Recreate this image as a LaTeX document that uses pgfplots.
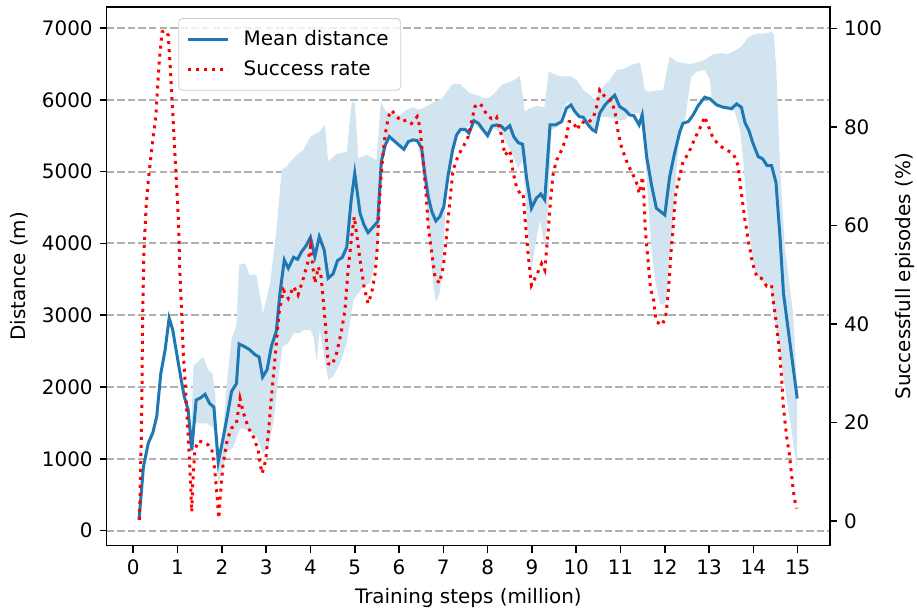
\documentclass[border=0pt]{standalone}
\usepackage{fontspec}
\setmainfont{DejaVu Sans}
\usepackage{pgfplots}
\pgfplotsset{compat=1.18}
\usetikzlibrary{calc}

\definecolor{tabblue}{HTML}{1F77B4}
\definecolor{bandblue}{RGB}{210,228,240}
\definecolor{gridgray}{HTML}{B0B0B0}

\pgfplotsset{
  every axis/.append style={
    /pgf/number format/assume math mode=true,
    /pgf/number format/1000 sep={},
    tick align=outside,
    major tick length=3.5bp,
    tick style={black, line width=0.8bp},
    axis line style={line width=0.8bp},
    tick label style={font=\fontsize{10}{12}\selectfont},
    label style={font=\fontsize{10}{12}\selectfont},
  },
  legline/.style={legend image code/.code={\draw[##1] (0bp,0bp) -- (20bp,0bp);}},
}

\begin{document}
\begin{tikzpicture}
% left axis: distance
\begin{axis}[
  width=361.7bp, height=269.5bp, scale only axis,
  xmin=-0.6, xmax=15.73,
  ymin=-209, ymax=7298,
  xtick={0,1,...,15},
  ytick={0,1000,...,7000},
  tick pos=left,
  ymajorgrids=true,
  grid style={gridgray, line width=1bp, dash pattern=on 3.7bp off 1.6bp},
  xlabel={Training steps (million)},
  ylabel={Distance (m)},
]
\coordinate (sw) at (rel axis cs:0,0);
\coordinate (ne) at (rel axis cs:1,1);

% spread of the distance
\addplot[fill=bandblue, draw=none, forget plot] coordinates {
(1.15,1870) (1.24,1700) (1.30,1300) (1.36,2300) (1.42,2330) (1.58,2424) (1.69,2238) (1.79,2192)
(1.85,1900) (1.92,1000) (2.02,1300) (2.11,2053) (2.22,2680) (2.33,2865) (2.39,3700) (2.52,3725)
(2.63,3562) (2.78,3562) (2.93,3028) (3.09,3446) (3.24,4235) (3.35,5024) (3.46,5071) (3.58,5164)
(3.69,5234) (3.84,5303) (4.00,5489) (4.21,5558) (4.33,5651) (4.40,5140) (4.59,5247) (4.82,5280)
(4.93,5954) (5.00,5977) (5.08,5187) (5.27,5234) (5.49,5164) (5.59,5977) (5.68,5861) (5.79,5814)
(6.02,5791) (6.17,5861) (6.32,5898) (6.43,5861) (6.55,5884) (6.74,5954) (6.97,6023) (7.11,6139)
(7.22,6223) (7.38,6223) (7.51,6139) (7.60,6093) (7.75,6070) (7.90,6023) (8.01,6023) (8.16,6093)
(8.32,6209) (8.58,6269) (8.73,6334) (8.84,5837) (8.95,5884) (9.11,5916) (9.28,5898) (9.38,6394)
(9.59,6334) (9.75,6325) (9.86,6334) (10.01,6278) (10.16,6139) (10.31,6070) (10.42,6000) (10.61,6185)
(10.76,6278) (10.91,6418) (11.06,6427) (11.25,6487) (11.44,6520) (11.55,6139) (11.63,6116) (11.81,6130)
(11.96,6139) (12.11,6604) (12.27,6534) (12.45,6511) (12.57,6497) (12.72,6520) (12.90,6557) (13.09,6636)
(13.28,6650) (13.40,6636) (13.55,6673) (13.73,6743) (13.88,6870) (14.03,6919) (14.30,6929) (14.41,6951)
(14.46,6905) (14.52,6400) (14.60,5100) (14.71,3950) (14.82,3400) (14.90,3000) (14.95,2400) (14.99,1900)
(14.99,846) (14.93,1078) (14.86,1403) (14.79,1681) (14.71,2006) (14.60,2471) (14.49,2935) (14.38,3399)
(14.30,3446) (14.15,3492) (14.05,3585) (13.99,3771) (13.92,4096) (13.85,4514) (13.77,5164) (13.70,5582)
(13.58,5837) (13.51,5850) (13.30,5880) (13.10,5950) (13.06,6000) (13.02,6278) (12.90,6418) (12.73,6394)
(12.60,6325) (12.53,6046) (12.45,5675) (12.34,5536) (12.26,5024) (12.19,4328) (12.11,3771) (12.03,3200)
(11.96,3144) (11.89,3168) (11.78,3492) (11.70,3910) (11.63,4561) (11.55,5257) (11.50,5700) (11.42,5814)
(11.21,5814) (11.10,5721) (10.95,5720) (10.80,5750) (10.65,5767) (10.53,5750) (10.44,5558) (10.37,5582)
(10.27,5651) (10.16,5758) (10.07,5767) (9.97,5837) (9.88,5930) (9.82,5977) (9.70,5861) (9.59,5628)
(9.44,5582) (9.37,4514) (9.29,3956) (9.18,4328) (9.07,3956) (8.99,3632) (8.88,4374) (8.80,5164)
(8.69,5048) (8.54,5257) (8.39,5442) (8.28,5558) (8.13,5605) (7.98,5512) (7.83,5582) (7.67,5697)
(7.56,5628) (7.41,5582) (7.26,5489) (7.15,5164) (7.07,4792) (7.00,3864) (6.92,3307) (6.83,3190)
(6.77,3446) (6.70,3956) (6.62,4607) (6.51,5118) (6.41,5433) (6.32,5443) (6.21,5419) (6.11,5312)
(5.95,5396) (5.78,5489) (5.69,5373) (5.60,5140) (5.55,4049) (5.45,3700) (5.35,3450) (5.19,3400)
(4.97,3214) (4.82,2610) (4.67,2332) (4.51,2145) (4.40,2099) (4.21,2796) (4.14,2354) (4.07,2700)
(4.00,2796) (3.84,2796) (3.76,2750) (3.62,2750) (3.50,2610) (3.37,2563) (3.27,2099) (3.16,1496)
(3.05,1170) (2.93,1078) (2.78,1310) (2.60,1403) (2.41,1426) (2.26,1170) (2.11,1078) (2.03,892)
(1.92,660) (1.81,1430) (1.66,1496) (1.42,1496) (1.35,1472) (1.32,1050) (1.24,1500) (1.15,1860)
};

% mean distance
\addplot[tabblue, line width=1.5bp, forget plot] coordinates {
(0.13,150) (0.23,890) (0.34,1220) (0.44,1360) (0.53,1590) (0.62,2180) (0.72,2520) (0.81,2960)
(0.89,2800) (0.98,2470) (1.07,2145) (1.15,1870) (1.24,1680) (1.32,1120) (1.42,1820) (1.52,1850)
(1.62,1900) (1.72,1775) (1.82,1720) (1.92,960) (2.02,1260) (2.12,1590) (2.22,1940) (2.33,2050)
(2.39,2600) (2.52,2560) (2.63,2520) (2.75,2450) (2.84,2420) (2.92,2140) (3.02,2240) (3.12,2570)
(3.23,2780) (3.31,3300) (3.41,3770) (3.50,3655) (3.62,3808) (3.71,3780) (3.80,3886) (3.90,3966)
(4.00,4087) (4.10,3817) (4.20,4096) (4.31,3910) (4.40,3516) (4.51,3576) (4.61,3761) (4.72,3808)
(4.82,3948) (4.92,4607) (5.00,4979) (5.12,4421) (5.21,4258) (5.30,4151) (5.42,4235) (5.52,4305)
(5.60,5140) (5.69,5373) (5.78,5489) (5.95,5396) (6.11,5312) (6.21,5419) (6.32,5443) (6.41,5433)
(6.51,5327) (6.58,4979) (6.66,4653) (6.74,4444) (6.83,4314) (6.92,4374) (7.01,4514) (7.11,4955)
(7.21,5303) (7.30,5512) (7.39,5591) (7.49,5591) (7.58,5536) (7.69,5711) (7.79,5675) (7.90,5582)
(8.00,5502) (8.10,5637) (8.20,5651) (8.30,5637) (8.39,5582) (8.50,5641) (8.59,5489) (8.69,5405)
(8.79,5382) (8.88,4909) (8.99,4491) (9.10,4630) (9.20,4690) (9.29,4607) (9.41,5651) (9.53,5651)
(9.67,5697) (9.78,5884) (9.88,5930) (9.97,5837) (10.07,5767) (10.16,5758) (10.27,5651) (10.37,5582)
(10.44,5558) (10.53,5814) (10.65,5930) (10.76,6000) (10.87,6065) (10.98,5907) (11.10,5860) (11.21,5790)
(11.30,5781) (11.42,5651) (11.49,5790) (11.59,5210) (11.70,4816) (11.81,4491) (12.00,4398) (12.11,4931)
(12.22,5257) (12.34,5558) (12.41,5675) (12.53,5697) (12.64,5790) (12.75,5916) (12.90,6037) (13.02,6014)
(13.17,5930) (13.32,5898) (13.51,5879) (13.62,5944) (13.73,5898) (13.81,5684) (13.90,5572) (13.99,5396)
(14.11,5210) (14.21,5178) (14.31,5084) (14.41,5084) (14.51,4850) (14.60,4100) (14.68,3300) (14.99,1840)
};
\end{axis}

% right axis: success rate
\begin{axis}[
  width=361.7bp, height=269.5bp, scale only axis,
  xmin=-0.6, xmax=15.73,
  ymin=-4.95, ymax=104.4,
  axis x line=none,
  axis y line*=right,
  ytick={0,20,...,100},
  ylabel={Successfull episodes (\%)},
  legline,
  legend style={at={(0.099,0.979)}, anchor=north west, draw=black!20,
    rounded corners=2bp, fill=white, fill opacity=0.8, text opacity=1,
    font=\fontsize{10}{12}\selectfont, inner xsep=4bp, inner ysep=4bp,
    row sep=2bp, column sep=5bp},
  legend cell align=left,
]
\addlegendimage{tabblue, line width=1.5bp}
\addlegendentry{Mean distance}
\addplot[red, line width=1.5bp, dash pattern=on 1.5bp off 2.5bp] coordinates {
(0.14,0.3) (0.19,20.5) (0.21,40.8) (0.24,54.4) (0.29,63.8) (0.34,69.2) (0.39,73.3) (0.45,78)
(0.51,82.1) (0.54,86.8) (0.59,93.6) (0.65,99.3) (0.72,99.6) (0.79,98.6) (0.84,91.5) (0.90,81.4)
(0.96,71.3) (1.02,61.1) (1.05,51) (1.09,42.9) (1.13,34.1) (1.19,25.3) (1.24,17.2) (1.28,10.4)
(1.32,1.9) (1.34,7) (1.39,14.5) (1.47,16.3) (1.64,15.9) (1.77,14.8) (1.84,10.4) (1.90,4.3)
(1.93,0.6) (1.97,5.7) (2.03,11.8) (2.12,16.5) (2.22,18.9) (2.33,19.9) (2.41,24.9) (2.48,22.2)
(2.60,18.9) (2.71,17.2) (2.82,14.5) (2.86,11.8) (2.91,9.7) (2.99,12.4) (3.05,17.8) (3.12,25.3)
(3.21,34.1) (3.29,42.2) (3.39,46.9) (3.50,45.2) (3.62,47.6) (3.72,45.9) (3.84,49.3) (3.94,52.5)
(4.00,55.7) (4.10,48.3) (4.18,51.6) (4.24,49.6) (4.33,40.8) (4.40,32) (4.49,31.7) (4.59,34.1)
(4.69,38.1) (4.78,42.9) (4.85,51) (4.93,57.7) (4.99,61.8) (5.04,58.4) (5.12,53) (5.21,47.6)
(5.30,44.2) (5.38,46.2) (5.46,50.3) (5.51,55.7) (5.55,63.8) (5.61,71.9) (5.68,78) (5.76,82.1)
(5.83,83.4) (5.95,82.1) (6.06,81.1) (6.17,81.4) (6.28,80.7) (6.41,82.1) (6.47,80) (6.55,72.6)
(6.61,66.5) (6.66,59.8) (6.74,54.4) (6.81,49.6) (6.91,48.3) (7.00,51.6) (7.07,57.7) (7.15,65.2)
(7.22,71.3) (7.34,74.3) (7.45,76) (7.56,78) (7.64,81.1) (7.71,84.1) (7.81,84.8) (7.89,84.1)
(7.98,82.4) (8.09,81.7) (8.20,82.1) (8.32,78) (8.39,74.3) (8.50,75.3) (8.58,70.6) (8.65,67.9)
(8.73,66.5) (8.80,66.5) (8.86,59.8) (8.92,53.7) (8.99,47.9) (9.11,50) (9.22,52.3) (9.29,51)
(9.37,59.1) (9.42,65.2) (9.48,70.6) (9.56,73.3) (9.67,75.3) (9.78,78) (9.84,81.1) (9.93,81.1)
(10.02,79.4) (10.12,81.1) (10.23,80.7) (10.38,81.7) (10.46,84.1) (10.53,87.5) (10.65,86.1) (10.80,85.3)
(10.88,82.8) (10.95,78.7) (11.02,76) (11.10,74) (11.17,72.3) (11.25,70.9) (11.32,69.6) (11.38,68.2)
(11.42,66.5) (11.46,68.2) (11.50,69.9) (11.53,65.2) (11.56,59.1) (11.62,53) (11.68,46.9) (11.74,45.6)
(11.78,42.2) (11.81,40.5) (11.94,39.8) (12.02,41.5) (12.07,45.6) (12.11,50.3) (12.15,55.7) (12.19,59.8)
(12.22,63.8) (12.26,67.2) (12.30,68.6) (12.34,70.2) (12.41,72.9) (12.53,74.6) (12.60,76) (12.68,77.7)
(12.75,79) (12.83,80.4) (12.90,82.1) (12.96,80.7) (13.02,79.4) (13.09,77.7) (13.21,76.5) (13.36,75.4)
(13.52,74.8) (13.60,73.6) (13.66,71.9) (13.70,68.6) (13.74,65.8) (13.77,63.8) (13.81,61.1) (13.85,59.1)
(13.88,57.1) (13.94,54.4) (13.98,52.3) (14.03,51) (14.08,49.5) (14.18,49.3) (14.30,47.7) (14.41,47.9)
(14.45,44.5) (14.51,40.8) (14.56,36.8) (14.60,33.4) (14.64,28.7) (14.67,23.9) (14.71,20.5) (14.75,17.2)
(14.81,13.8) (14.85,10.4) (14.90,6.3) (14.94,4) (14.98,2.6)
};
\addlegendentry{Success rate}
\end{axis}

\pgfresetboundingbox
\path[use as bounding box] ($(sw)+(-53.35bp,-33.15bp)$) rectangle ($(ne)+(43.5bp,3.35bp)$);
\end{tikzpicture}
\end{document}
